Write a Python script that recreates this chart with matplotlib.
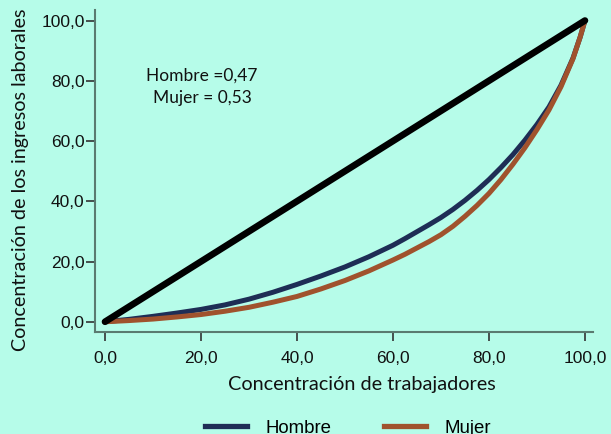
import matplotlib
matplotlib.use("Agg")
import matplotlib.pyplot as plt
from matplotlib.lines import Line2D

# Data (percent)
x_pct = [0, 2.5, 5, 10, 15, 20, 25, 30, 35, 40, 45, 50, 55, 60, 62.5, 65, 67.5, 70, 72.5,
         75, 77.5, 80, 82.5, 85, 87.5, 90, 92.5, 95, 97.5, 99, 100]
hombre = [0, 0.4, 0.8, 1.8, 2.9, 4.1, 5.6, 7.5, 9.8, 12.4, 15.2, 18.2, 21.6, 25.4, 27.6, 29.9,
          32.2, 34.6, 37.3, 40.3, 43.6, 47.2, 51.2, 55.5, 60.3, 65.5, 71.3, 78.5, 87.5, 94.5, 100]
mujer = [0, 0.2, 0.4, 0.9, 1.6, 2.4, 3.5, 4.8, 6.5, 8.4, 10.9, 13.7, 16.9, 20.5, 22.4, 24.5,
         26.6, 28.9, 31.7, 35.0, 38.6, 42.6, 47.2, 52.3, 57.8, 63.8, 70.3, 78.0, 87.3, 94.5, 100]
equality = [0, 100]
ticks = [0, 20, 40, 60, 80, 100]
tick_labels = ["0,0", "20,0", "40,0", "60,0", "80,0", "100,0"]
series_names = ["Hombre", "Mujer"]
gini_text = "Hombre =0,47\nMujer = 0,53"

BG = "#B6FCE9"
C_H = "#1E2D55"
C_M = "#A0522D"
SPINE = "#5A7A70"

fig = plt.figure(figsize=(6.11, 4.34), dpi=100, facecolor=BG)
ax = fig.add_axes([0.1555, 0.235, 0.815, 0.742], facecolor=BG)

ax.plot(x_pct, hombre, color=C_H, lw=3.6, solid_capstyle="round", solid_joinstyle="round", zorder=2)
ax.plot(x_pct, mujer, color=C_M, lw=3.6, solid_capstyle="round", solid_joinstyle="round", zorder=3)
ax.plot(equality, equality, color="black", lw=4.8, solid_capstyle="round", zorder=4)

ax.set_xlim(-2.08, 101.67)
ax.set_ylim(-3.4, 103.5)
ax.set_xticks(ticks)
ax.set_xticklabels(tick_labels)
ax.set_yticks(ticks)
ax.set_yticklabels(tick_labels)

for s in ["top", "right"]:
    ax.spines[s].set_visible(False)
for s in ["left", "bottom"]:
    ax.spines[s].set_color(SPINE)
    ax.spines[s].set_linewidth(1.5)

tickfont = "Liberation Sans"
ax.tick_params(axis="both", direction="out", length=6.5, width=1.2, color="#333333",
               labelsize=12.5, labelcolor="#111111")
ax.tick_params(axis="x", pad=7)
ax.tick_params(axis="y", pad=1)
for lab in ax.get_xticklabels() + ax.get_yticklabels():
    lab.set_family(tickfont)

ax.set_xlabel("Concentración de trabajadores", family="Lato", fontsize=14.3, color="#111111",
              va="baseline")
ax.xaxis.set_label_coords(0.536, -0.180)
ax.set_ylabel("Concentración de los ingresos laborales", family="Lato", fontsize=14.2,
              color="#111111", va="center")
ax.yaxis.set_label_coords(-0.1506, 0.472)

ax.text(20.2, 78.0, gini_text, family="Lato", fontsize=12.5, color="#111111",
        ha="center", va="center", linespacing=1.5)

handles = [Line2D([], [], color=C_H, lw=3.8), Line2D([], [], color=C_M, lw=3.8)]
fig.legend(handles, series_names, loc="center", bbox_to_anchor=(0.570, 0.0135), ncol=2,
           frameon=False, prop={"family": "Liberation Sans", "size": 13.4},
           handlelength=2.26, handletextpad=1.0, columnspacing=2.8)

fig.savefig("out.png", dpi=100, facecolor=BG)
